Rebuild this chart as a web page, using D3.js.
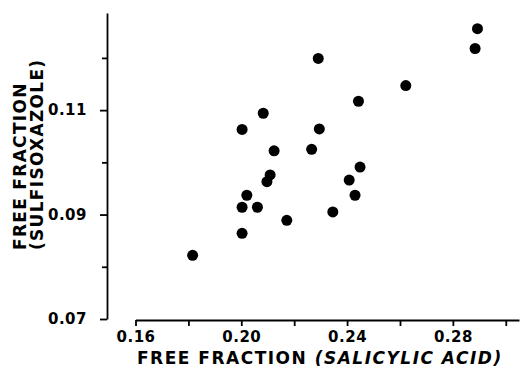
<!DOCTYPE html>
<html>
<head>
<meta charset="utf-8">
<script src="https://cdn.jsdelivr.net/npm/d3@7"></script>
<style>
  body { margin: 0; background: #fff; }
  text { font-family: "DejaVu Sans", sans-serif; font-weight: bold; fill: #000; }
</style>
</head>
<body>
<svg id="chart" width="521" height="369"></svg>
<script>
// free fraction of salicylic acid (x) vs sulfisoxazole (y)
var salicylic = [0.1816, 0.2003, 0.2003, 0.2021, 0.2003, 0.2061, 0.2083, 0.2124, 0.2109, 0.2097, 0.2172,
                 0.2291, 0.2295, 0.2266, 0.2346, 0.2408, 0.2430, 0.2449, 0.2443, 0.2622, 0.2884, 0.2893];
var sulfisoxazole = [0.0822, 0.0864, 0.0914, 0.0937, 0.1063, 0.0914, 0.1094, 0.1022, 0.0976, 0.0963, 0.0889,
                     0.1199, 0.1064, 0.1025, 0.0905, 0.0966, 0.0937, 0.0991, 0.1117, 0.1147, 0.1218, 0.1256];

var xMajor = [0.16, 0.20, 0.24, 0.28];
var xMinor = [0.18, 0.22, 0.26, 0.30];
var yMajor = [0.07, 0.09, 0.11];
var yMinor = [0.08, 0.10, 0.12];

var svg = d3.select("#chart");

var x = d3.scaleLinear().domain([0.16, 0.305]).range([135.5, 519]);
var y = d3.scaleLinear().domain([0.07, 0.1286]).range([319, 13]);

var fmt = d3.format(".2f");

// x axis
var gx = svg.append("g").attr("transform", "translate(0,320)");
gx.call(d3.axisBottom(x).tickValues(xMajor).tickFormat(fmt).tickSize(6).tickSizeOuter(0));
gx.append("g").call(d3.axisBottom(x).tickValues(xMinor).tickFormat("").tickSize(6).tickSizeOuter(0))
  .select(".domain").remove();

// y axis
var gy = svg.append("g").attr("transform", "translate(107,0)");
gy.call(d3.axisLeft(y).tickValues(yMajor).tickFormat(fmt).tickSize(7).tickSizeOuter(0));
gy.append("g").call(d3.axisLeft(y).tickValues(yMinor).tickFormat("").tickSize(5).tickSizeOuter(0))
  .select(".domain").remove();

svg.selectAll(".domain, .tick line").attr("stroke", "#000").attr("stroke-width", 1.8);
svg.selectAll(".tick text").style("font-size", "15px").style("letter-spacing", "0.5px")
  .style("font-family", "'DejaVu Sans', sans-serif").style("font-weight", "bold");
gx.selectAll(".tick text").attr("y", 11);
gy.selectAll(".tick text").attr("x", -20);

// points
svg.append("g").selectAll("circle")
  .data(salicylic.map((d, i) => [d, sulfisoxazole[i]]))
  .enter().append("circle")
  .attr("cx", d => x(d[0]))
  .attr("cy", d => y(d[1]))
  .attr("r", 5.5)
  .attr("fill", "#000");

// axis titles
var xt = svg.append("text")
  .attr("x", 137).attr("y", 364)
  .style("font-size", "17px").style("letter-spacing", "1.5px");
xt.append("tspan").text("FREE FRACTION ");
xt.append("tspan").style("font-style", "italic").text("(SALICYLIC ACID)");

svg.append("text")
  .attr("transform", "translate(26,250) rotate(-90)")
  .style("font-size", "17px").style("letter-spacing", "1.3px")
  .text("FREE FRACTION");
svg.append("text")
  .attr("transform", "translate(43,250) rotate(-90)")
  .style("font-size", "17px").style("letter-spacing", "1.3px")
  .text("(SULFISOXAZOLE)");
</script>
</body>
</html>
